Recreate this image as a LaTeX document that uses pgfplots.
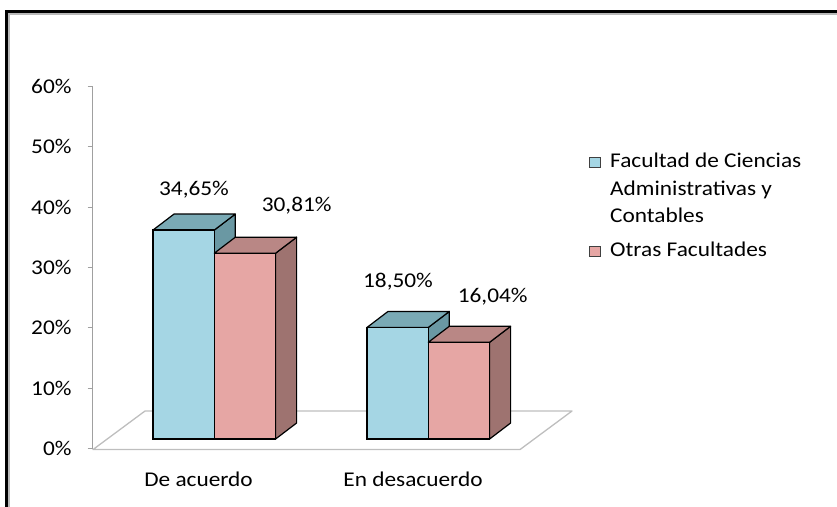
\documentclass[border=0pt]{standalone}
\usepackage{pgfplots}
\pgfplotsset{compat=1.18}
\usepackage{pgfplotstable}
\usepackage{fontspec}
\setmainfont{Carlito}
\definecolor{bluefront}{RGB}{165,214,228}
\definecolor{bluetop}{RGB}{122,170,181}
\definecolor{blueside}{RGB}{106,152,163}
\definecolor{pinkfront}{RGB}{230,166,164}
\definecolor{pinktop}{RGB}{185,135,133}
\definecolor{pinkside}{RGB}{158,115,112}
\definecolor{floorgray}{RGB}{190,190,190}
\definecolor{axisgray}{RGB}{160,160,160}
\newcommand\lf{\fontsize{21bp}{25bp}\selectfont}
\tikzset{tl/.style={font=\lf, text=black, inner sep=0pt, xscale=1.11}}

\pgfplotstableread{
xl  blue   pink
153 34.65  30.81
367 18.50  16.04
}\datatable

\newcommand\barW{61.3}
\newcommand\depX{21}
\newcommand\depY{2.65}

% top and side faces of one 3-D column, read from the data table
\newcommand\cubeback[5]{%
  \pgfplotstablegetelem{#1}{xl}\of\datatable
  \pgfmathsetmacro\cxa{\pgfplotsretval+#3*\barW}%
  \pgfplotstablegetelem{#1}{#2}\of\datatable
  \pgfmathsetmacro\cval{\pgfplotsretval}%
  \pgfmathsetmacro\cxb{\cxa+\barW}%
  \pgfmathsetmacro\cxc{\cxa+\depX}%
  \pgfmathsetmacro\cxd{\cxb+\depX}%
  \pgfmathsetmacro\cvt{\cval+\depY}%
  \addplot[fill=#5, draw=black, line width=1.2bp, line join=round]
    coordinates {(\cxb,0) (\cxd,\depY) (\cxd,\cvt) (\cxb,\cval)} -- cycle;
  \addplot[fill=#4, draw=black, line width=1.2bp, line join=round]
    coordinates {(\cxa,\cval) (\cxc,\cvt) (\cxd,\cvt) (\cxb,\cval)} -- cycle;
}

\begin{document}
\begin{tikzpicture}
\useasboundingbox (0,0) rectangle (837bp,507bp);
\begin{axis}[
  at={(0,0)}, anchor=south west,
  scale only axis, width=837bp, height=507bp,
  xmin=0, xmax=837, ymin=-11.277, ymax=72.80,
  hide axis, clip=false,
]
% frame
\draw[line width=3.3bp] (axis cs:6.7,-13) -- (axis cs:6.7,70.87) -- (axis cs:845,70.87);
\draw[gray!55, line width=1.2bp] (axis cs:9.0,-13) -- (axis cs:9.0,70.46) -- (axis cs:845,70.46);

% floor
\draw[floorgray, line width=1.3bp, line join=round]
  (axis cs:93,-1.75) -- (axis cs:520,-1.75) -- (axis cs:572,4.64) -- (axis cs:145,4.64) -- cycle;

% value axis
\draw[axisgray, line width=1bp] (axis cs:92.5,-1.55) -- (axis cs:92.5,58.45);
\draw[axisgray, line width=1bp] (axis cs:87.5,-1.55) -- (axis cs:92.5,-1.55);
\draw[axisgray, line width=1bp] (axis cs:87.5,8.45) -- (axis cs:92.5,8.45);
\draw[axisgray, line width=1bp] (axis cs:87.5,18.45) -- (axis cs:92.5,18.45);
\draw[axisgray, line width=1bp] (axis cs:87.5,28.45) -- (axis cs:92.5,28.45);
\draw[axisgray, line width=1bp] (axis cs:87.5,38.45) -- (axis cs:92.5,38.45);
\draw[axisgray, line width=1bp] (axis cs:87.5,48.45) -- (axis cs:92.5,48.45);
\draw[axisgray, line width=1bp] (axis cs:87.5,58.45) -- (axis cs:92.5,58.45);
\node[tl, anchor=east] at (axis cs:71.7,-1.55) {0\%};
\node[tl, anchor=east] at (axis cs:71.7,8.45) {10\%};
\node[tl, anchor=east] at (axis cs:71.7,18.45) {20\%};
\node[tl, anchor=east] at (axis cs:71.7,28.45) {30\%};
\node[tl, anchor=east] at (axis cs:71.7,38.45) {40\%};
\node[tl, anchor=east] at (axis cs:71.7,48.45) {50\%};
\node[tl, anchor=east] at (axis cs:71.7,58.45) {60\%};

% columns
\cubeback{0}{blue}{0}{bluetop}{blueside}
\cubeback{1}{blue}{0}{bluetop}{blueside}
\addplot[ybar, bar width=\barW, bar shift=0pt, fill=bluefront, draw=black, line width=1.2bp]
  table[x expr=\thisrow{xl}+30.65, y=blue]{\datatable};
\cubeback{0}{pink}{1}{pinktop}{pinkside}
\cubeback{1}{pink}{1}{pinktop}{pinkside}
\addplot[ybar, bar width=\barW, bar shift=0pt, fill=pinkfront, draw=black, line width=1.2bp]
  table[x expr=\thisrow{xl}+91.95, y=pink]{\datatable};

% data labels
\node[tl, anchor=base] at (axis cs:194,40.46) {34,65\%};
\node[tl, anchor=base] at (axis cs:296.7,37.71) {30,81\%};
\node[tl, anchor=base] at (axis cs:398,25.16) {18,50\%};
\node[tl, anchor=base] at (axis cs:492.7,22.67) {16,04\%};

% categories
\node[tl, anchor=base] at (axis cs:198.5,-7.91) {De acuerdo};
\node[tl, anchor=base] at (axis cs:413,-7.91) {En desacuerdo};

% legend
\draw[fill=bluefront, draw=black!75, line width=0.8bp] (axis cs:589,45.02) rectangle (axis cs:600,46.68);
\draw[fill=pinkfront, draw=black!75, line width=0.8bp] (axis cs:589,30.35) rectangle (axis cs:600,32.01);
\node[tl, anchor=base west] at (axis cs:610,44.94) {Facultad de Ciencias};
\node[tl, anchor=base west] at (axis cs:610,40.38) {Administrativas y};
\node[tl, anchor=base west] at (axis cs:610,35.82) {Contables};
\node[tl, anchor=base west] at (axis cs:610,30.27) {Otras Facultades};
\end{axis}
\end{tikzpicture}
\end{document}
